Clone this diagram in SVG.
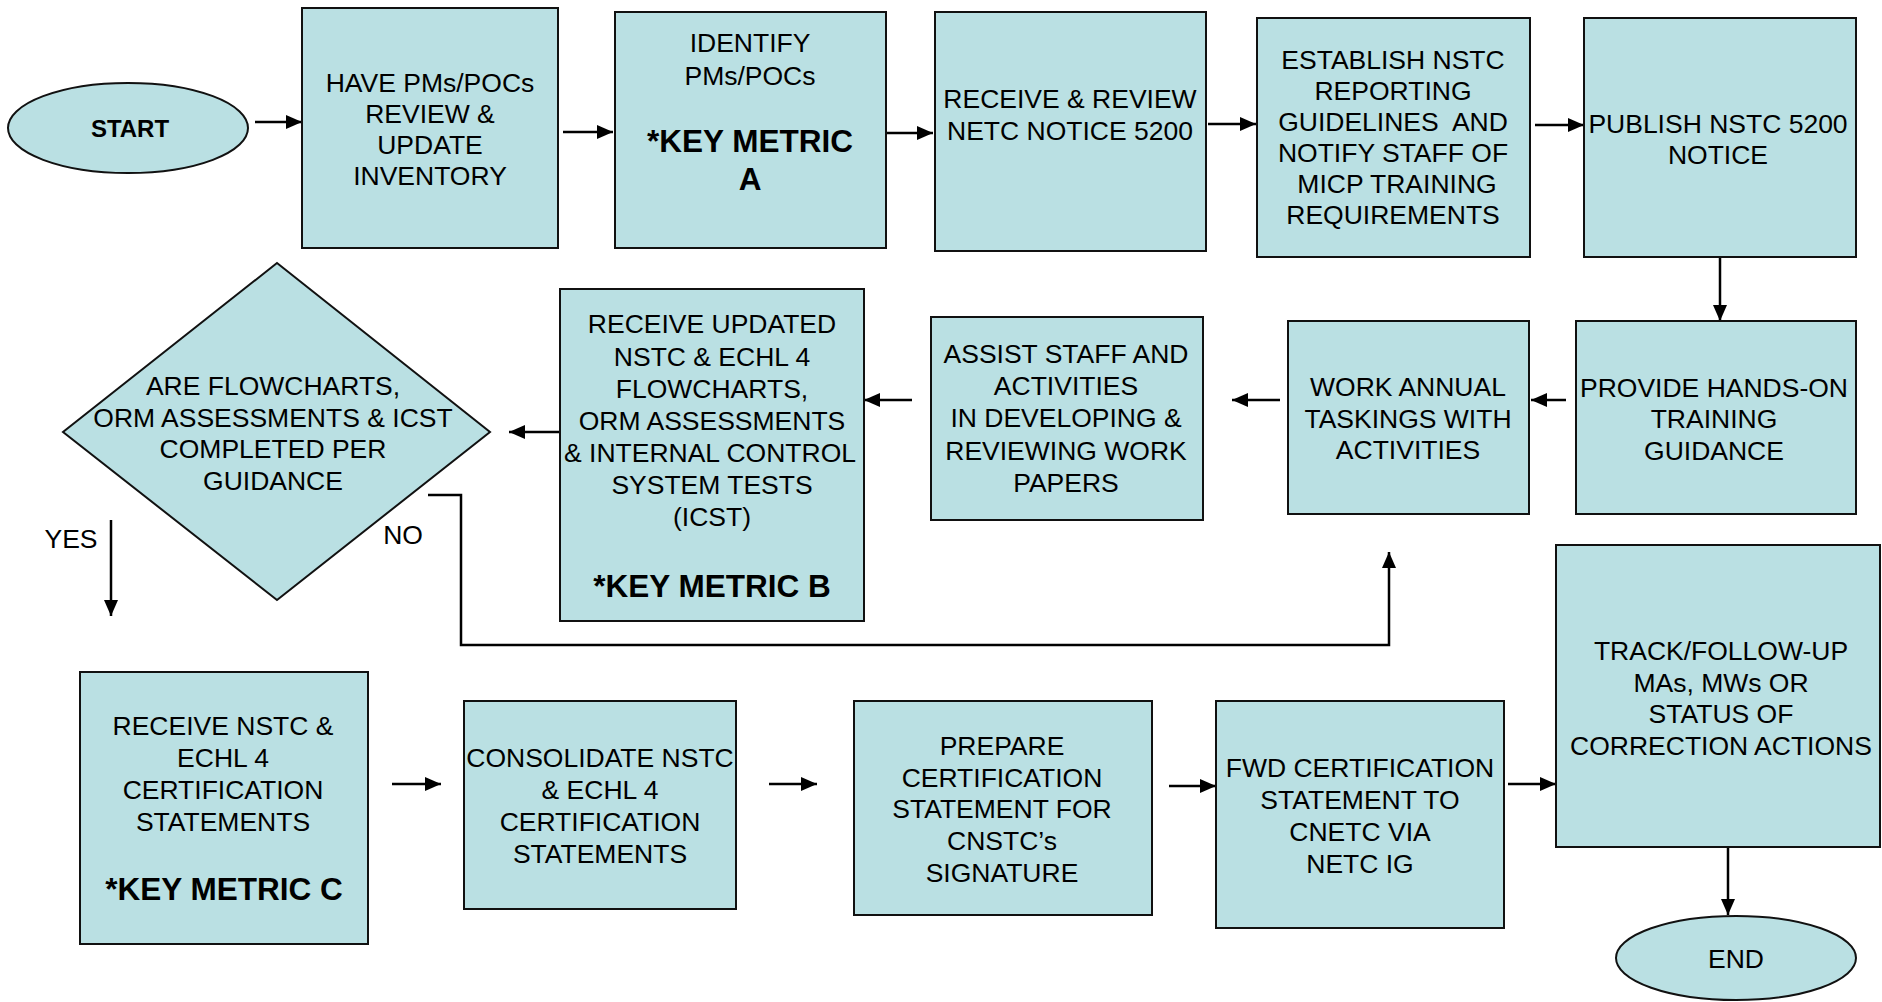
<svg xmlns="http://www.w3.org/2000/svg" width="1882" height="1002" viewBox="0 0 1882 1002">
  <defs>
    <style>
      .box { fill: #BAE0E3; stroke: #111; stroke-width: 2; }
      .t { font-family: "Liberation Sans", Arial, sans-serif; font-size: 26.5px; fill: #000; text-anchor: middle; }
      .b { font-weight: bold; font-size: 31.5px; }
      .conn { fill: none; stroke: #000; stroke-width: 2.5; }
      .arrow { marker-end: url(#head); }
    </style>
    <marker id="head" markerUnits="userSpaceOnUse" markerWidth="17" markerHeight="16" refX="16" refY="8" orient="auto">
      <path d="M0,1 L16,8 L0,15 z" fill="#000"/>
    </marker>
  </defs>
  <rect width="1882" height="1002" fill="#fff"/>

  <!-- connectors -->
  <g id="connectors">
    <path class="conn arrow" d="M255,122 H302"/>
    <path class="conn arrow" d="M563,132 H613"/>
    <path class="conn arrow" d="M880,133 H933"/>
    <path class="conn arrow" d="M1208,124 H1256"/>
    <path class="conn arrow" d="M1535,125 H1584"/>
    <path class="conn arrow" d="M1720,257 V321"/>
    <path class="conn arrow" d="M1566,400 H1531"/>
    <path class="conn arrow" d="M1280,400 H1232"/>
    <path class="conn arrow" d="M912,400 H864"/>
    <path class="conn arrow" d="M559,432 H509"/>
    <path class="conn arrow" d="M428,495 H461 V645 H1389 V552"/>
    <path class="conn arrow" d="M111,520 V616"/>
    <path class="conn arrow" d="M392,784 H441"/>
    <path class="conn arrow" d="M769,784 H817"/>
    <path class="conn arrow" d="M1169,786 H1216"/>
    <path class="conn arrow" d="M1508,784 H1556"/>
    <path class="conn arrow" d="M1728,847 V915"/>
  </g>

  <!-- decision labels -->
  <g id="labels">
    <text class="t" x="71" y="548">YES</text>
    <text class="t" x="403" y="544">NO</text>
  </g>

  <g id="start">
    <ellipse class="box" cx="128" cy="128" rx="120" ry="45"/>
    <text class="t" x="130" y="137" style="font-weight:bold;font-size:24px">START</text>
  </g>

  <g id="review-inventory">
    <rect class="box" x="302" y="8" width="256" height="240"/>
    <text class="t"><tspan x="430" y="92">HAVE PMs/POCs</tspan><tspan x="430" y="123">REVIEW &amp;</tspan><tspan x="430" y="154">UPDATE</tspan><tspan x="430" y="185">INVENTORY</tspan></text>
  </g>

  <g id="identify-pms">
    <rect class="box" x="615" y="12" width="271" height="236"/>
    <text class="t"><tspan x="750" y="52">IDENTIFY</tspan><tspan x="750" y="85">PMs/POCs</tspan></text>
    <text class="t b"><tspan x="750" y="152">*KEY METRIC</tspan><tspan x="750" y="190">A</tspan></text>
  </g>

  <g id="receive-notice">
    <rect class="box" x="935" y="12" width="271" height="239"/>
    <text class="t"><tspan x="1070" y="108">RECEIVE &amp; REVIEW</tspan><tspan x="1070" y="140">NETC NOTICE 5200</tspan></text>
  </g>

  <g id="establish-guidelines">
    <rect class="box" x="1257" y="18" width="273" height="239"/>
    <text class="t" xml:space="preserve"><tspan x="1393" y="69">ESTABLISH NSTC</tspan><tspan x="1393" y="100">REPORTING</tspan><tspan x="1393" y="131">GUIDELINES  AND</tspan><tspan x="1393" y="162">NOTIFY STAFF OF</tspan><tspan x="1397" y="193">MICP TRAINING</tspan><tspan x="1393" y="224">REQUIREMENTS</tspan></text>
  </g>

  <g id="publish-notice">
    <rect class="box" x="1584" y="18" width="272" height="239"/>
    <text class="t"><tspan x="1718" y="133">PUBLISH NSTC 5200</tspan><tspan x="1718" y="164">NOTICE</tspan></text>
  </g>

  <g id="training-guidance">
    <rect class="box" x="1576" y="321" width="280" height="193"/>
    <text class="t"><tspan x="1714" y="397">PROVIDE HANDS-ON</tspan><tspan x="1714" y="428">TRAINING</tspan><tspan x="1714" y="460">GUIDANCE</tspan></text>
  </g>

  <g id="annual-taskings">
    <rect class="box" x="1288" y="321" width="241" height="193"/>
    <text class="t"><tspan x="1408" y="396">WORK ANNUAL</tspan><tspan x="1408" y="428">TASKINGS WITH</tspan><tspan x="1408" y="459">ACTIVITIES</tspan></text>
  </g>

  <g id="assist-staff">
    <rect class="box" x="931" y="317" width="272" height="203"/>
    <text class="t"><tspan x="1066" y="363">ASSIST STAFF AND</tspan><tspan x="1066" y="395">ACTIVITIES</tspan><tspan x="1066" y="427">IN DEVELOPING &amp;</tspan><tspan x="1066" y="460">REVIEWING WORK</tspan><tspan x="1066" y="492">PAPERS</tspan></text>
  </g>

  <g id="receive-flowcharts">
    <rect class="box" x="560" y="289" width="304" height="332"/>
    <text class="t"><tspan x="712" y="333">RECEIVE UPDATED</tspan><tspan x="712" y="366">NSTC &amp; ECHL 4</tspan><tspan x="712" y="398">FLOWCHARTS,</tspan><tspan x="712" y="430">ORM ASSESSMENTS</tspan><tspan x="710" y="462">&amp; INTERNAL CONTROL</tspan><tspan x="712" y="494">SYSTEM TESTS</tspan><tspan x="712" y="526">(ICST)</tspan></text>
    <text class="t b" x="712" y="597">*KEY METRIC B</text>
  </g>

  <g id="completed-decision">
    <polygon class="box" points="277,263 490,432 277,600 63,432"/>
    <text class="t"><tspan x="273" y="395">ARE FLOWCHARTS,</tspan><tspan x="273" y="427">ORM ASSESSMENTS &amp; ICST</tspan><tspan x="273" y="458">COMPLETED PER</tspan><tspan x="273" y="490">GUIDANCE</tspan></text>
  </g>

  <g id="receive-certification">
    <rect class="box" x="80" y="672" width="288" height="272"/>
    <text class="t"><tspan x="223" y="735">RECEIVE NSTC &amp;</tspan><tspan x="223" y="767">ECHL 4</tspan><tspan x="223" y="799">CERTIFICATION</tspan><tspan x="223" y="831">STATEMENTS</tspan></text>
    <text class="t b" x="224" y="900">*KEY METRIC C</text>
  </g>

  <g id="consolidate-statements">
    <rect class="box" x="464" y="701" width="272" height="208"/>
    <text class="t"><tspan x="600" y="767">CONSOLIDATE NSTC</tspan><tspan x="600" y="799">&amp; ECHL 4</tspan><tspan x="600" y="831">CERTIFICATION</tspan><tspan x="600" y="863">STATEMENTS</tspan></text>
  </g>

  <g id="prepare-statement">
    <rect class="box" x="854" y="701" width="298" height="214"/>
    <text class="t"><tspan x="1002" y="755">PREPARE</tspan><tspan x="1002" y="787">CERTIFICATION</tspan><tspan x="1002" y="818">STATEMENT FOR</tspan><tspan x="1002" y="850">CNSTC’s</tspan><tspan x="1002" y="882">SIGNATURE</tspan></text>
  </g>

  <g id="forward-statement">
    <rect class="box" x="1216" y="701" width="288" height="227"/>
    <text class="t"><tspan x="1360" y="777">FWD CERTIFICATION</tspan><tspan x="1360" y="809">STATEMENT TO</tspan><tspan x="1360" y="841">CNETC VIA</tspan><tspan x="1360" y="873">NETC IG</tspan></text>
  </g>

  <g id="track-actions">
    <rect class="box" x="1556" y="545" width="324" height="302"/>
    <text class="t"><tspan x="1721" y="660">TRACK/FOLLOW-UP</tspan><tspan x="1721" y="692">MAs, MWs OR</tspan><tspan x="1721" y="723">STATUS OF</tspan><tspan x="1721" y="755">CORRECTION ACTIONS</tspan></text>
  </g>

  <g id="end">
    <ellipse class="box" cx="1736" cy="958" rx="120" ry="42"/>
    <text class="t" x="1736" y="968">END</text>
  </g>
</svg>
